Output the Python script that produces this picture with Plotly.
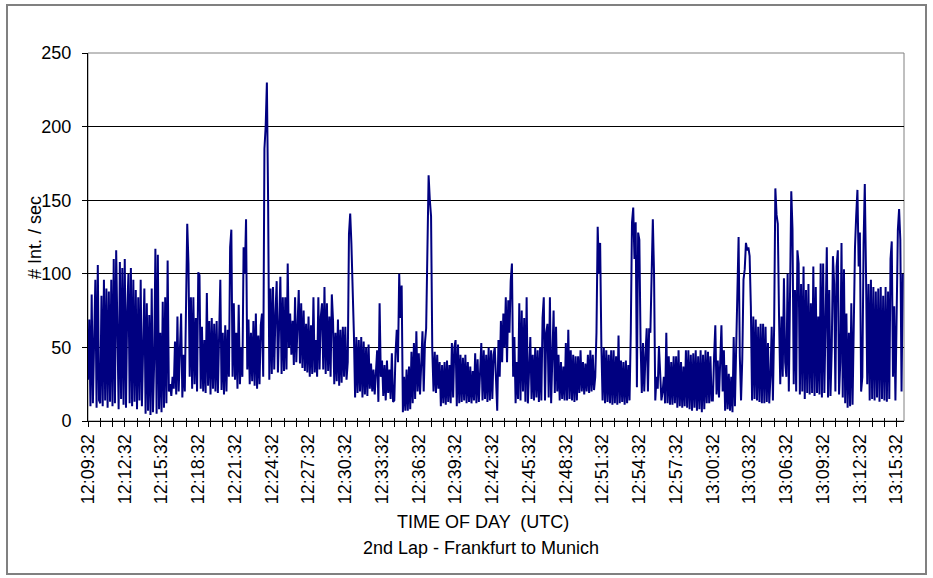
import datetime as dt
import plotly.graph_objects as go

# Interrupt rate (# per second), sampled every 6 s from 12:09:32 UTC,
# grouped in 6-minute blocks.
rate_1209 = [28, 69, 10, 86, 12, 62, 96, 9, 106, 14,
             12, 85, 10, 96, 14, 90, 9, 88, 13, 96,
             10, 110, 12, 116, 62, 8, 108, 15, 104, 11,
             110, 9, 75, 100, 12, 104, 10, 96, 13, 89,
             8, 84, 14, 96, 10, 60, 90, 5, 80, 7,
             72, 4, 90, 6, 40, 117, 5, 113, 8, 60]
rate_1215 = [6, 81, 9, 84, 12, 109, 20, 25, 17, 30,
             22, 54, 18, 71, 20, 48, 73, 16, 45, 20,
             90, 134, 107, 30, 84, 22, 84, 25, 70, 20,
             101, 99, 22, 64, 20, 55, 19, 87, 24, 68,
             18, 70, 22, 66, 20, 68, 19, 65, 96, 21,
             60, 18, 65, 20, 62, 30, 118, 130, 30, 80]
rate_1221 = [28, 60, 22, 79, 25, 50, 30, 118, 100, 137,
             35, 69, 25, 60, 27, 68, 24, 73, 22, 58,
             25, 65, 73, 30, 185, 200, 230, 150, 28, 90,
             32, 91, 35, 73, 95, 33, 60, 98, 32, 84,
             34, 84, 35, 107, 50, 73, 45, 68, 38, 84,
             40, 70, 89, 39, 80, 36, 75, 34, 66, 33]
rate_1227 = [71, 30, 65, 32, 84, 33, 55, 30, 84, 35,
             71, 80, 35, 91, 32, 80, 34, 71, 30, 86,
             68, 25, 60, 27, 69, 24, 62, 26, 64, 30,
             64, 28, 40, 127, 141, 120, 93, 60, 16, 57,
             19, 55, 20, 57, 16, 54, 18, 50, 17, 52,
             22, 39, 20, 35, 18, 30, 48, 13, 80, 30]
rate_1233 = [41, 17, 38, 14, 41, 19, 35, 15, 46, 13,
             14, 46, 62, 40, 100, 70, 92, 6, 30, 7,
             35, 7, 37, 8, 47, 12, 53, 15, 61, 20,
             46, 18, 40, 61, 20, 53, 63, 120, 167, 150,
             139, 48, 20, 47, 19, 45, 22, 40, 10, 38,
             12, 40, 11, 41, 13, 38, 12, 53, 16, 50]
rate_1239 = [55, 10, 52, 12, 45, 13, 43, 14, 45, 12,
             40, 13, 37, 12, 34, 14, 46, 12, 42, 13,
             30, 53, 14, 48, 15, 45, 13, 50, 14, 48,
             15, 45, 50, 20, 7, 55, 30, 68, 40, 73,
             50, 84, 40, 82, 60, 95, 107, 30, 57, 12,
             40, 15, 80, 14, 75, 20, 70, 13, 84, 12]
rate_1245 = [35, 57, 15, 45, 14, 50, 16, 48, 13, 50,
             14, 70, 84, 14, 60, 66, 16, 84, 12, 53,
             75, 19, 64, 20, 45, 14, 40, 15, 37, 14,
             53, 14, 62, 15, 48, 14, 45, 13, 44, 14,
             44, 19, 48, 20, 40, 18, 39, 20, 45, 19,
             48, 20, 45, 21, 30, 60, 132, 100, 121, 51]
rate_1251 = [14, 50, 12, 48, 13, 45, 12, 48, 11, 48,
             12, 44, 11, 58, 12, 41, 13, 40, 11, 41,
             12, 38, 14, 60, 135, 145, 110, 135, 23, 128,
             123, 53, 19, 53, 20, 45, 63, 20, 63, 60,
             110, 137, 100, 14, 30, 22, 51, 25, 14, 20,
             30, 12, 60, 12, 44, 11, 40, 11, 44, 12]
rate_1257 = [44, 9, 48, 10, 40, 9, 37, 10, 48, 9,
             48, 8, 45, 7, 46, 9, 48, 7, 44, 8,
             48, 6, 45, 8, 48, 12, 47, 12, 44, 14,
             14, 44, 65, 18, 41, 16, 40, 65, 20, 48,
             7, 38, 8, 32, 7, 30, 6, 57, 10, 55,
             103, 125, 44, 14, 42, 96, 103, 121, 116, 118]
rate_1303 = [112, 78, 14, 71, 15, 69, 14, 64, 13, 66,
             12, 66, 12, 64, 13, 53, 12, 30, 64, 14,
             64, 158, 140, 134, 71, 25, 71, 30, 97, 40,
             30, 100, 20, 105, 156, 130, 25, 89, 20, 116,
             107, 18, 93, 20, 105, 15, 89, 19, 93, 18,
             80, 19, 105, 17, 91, 19, 71, 18, 107, 16]
rate_1309 = [107, 19, 60, 118, 16, 89, 17, 48, 112, 93,
             20, 105, 116, 18, 40, 121, 16, 103, 12, 73,
             9, 60, 10, 80, 11, 70, 118, 140, 157, 105,
             128, 20, 30, 120, 161, 100, 25, 93, 14, 96,
             15, 91, 14, 88, 16, 90, 13, 91, 15, 85,
             14, 91, 13, 88, 15, 110, 122, 30, 78, 14]
rate_1315 = [60, 130, 144, 123, 20, 100]

tick_labels = ["12:09:32", "12:12:32", "12:15:32", "12:18:32", "12:21:32",
               "12:24:32", "12:27:32", "12:30:32", "12:33:32", "12:36:32",
               "12:39:32", "12:42:32", "12:45:32", "12:48:32", "12:51:32",
               "12:54:32", "12:57:32", "13:00:32", "13:03:32", "13:06:32",
               "13:09:32", "13:12:32", "13:15:32"]

day = "2000-01-01"
step_s = 6
rates = (rate_1209 + rate_1215 + rate_1221 + rate_1227 + rate_1233 + rate_1239
         + rate_1245 + rate_1251 + rate_1257 + rate_1303 + rate_1309 + rate_1315)
t0 = dt.datetime.fromisoformat(f"{day} {tick_labels[0]}")
times = [t0 + dt.timedelta(seconds=step_s * i) for i in range(len(rates))]
t_end = times[-1] + dt.timedelta(seconds=step_s)
tick_vals = [dt.datetime.fromisoformat(f"{day} {s}") for s in tick_labels]

# plot-area geometry (pixels)
W, H = 933, 578
L, R, T, B = 88, 29, 53, 157
pw, ph = W - L - R, H - T - B


def px(x):
    return (x - L) / pw


def py(y):
    return (H - B - y) / ph


FONT = "Liberation Sans, Arial, sans-serif"

fig = go.Figure()
fig.add_trace(go.Scatter(
    x=times, y=rates, mode="lines",
    line=dict(color="#000080", width=2),
    hoverinfo="x+y", showlegend=False,
))
# invisible trace carrying the inner half of the crossing tick marks
fig.add_trace(go.Scatter(x=[times[0]], y=[None], xaxis="x2", showlegend=False,
                         hoverinfo="skip"))

fig.update_layout(
    width=W, height=H,
    margin=dict(l=L, r=R, t=T, b=B),
    paper_bgcolor="white", plot_bgcolor="white",
    font=dict(family=FONT, size=18, color="black"),
    xaxis=dict(
        type="date", range=[t0, t_end],
        tickvals=tick_vals, ticktext=tick_labels, tickangle=-90,
        ticks="outside", ticklen=5, tickwidth=1, tickcolor="black",
        minor=dict(ticks="outside", dtick=60000, tick0=t0, ticklen=5,
                   tickcolor="black", showgrid=False),
        showline=True, linecolor="black", linewidth=1,
        showgrid=False, zeroline=False,
        tickfont=dict(size=18),
    ),
    xaxis2=dict(
        type="date", overlaying="x", matches="x", anchor="y", side="bottom",
        range=[t0, t_end], tickvals=tick_vals, showticklabels=False,
        ticks="inside", ticklen=3, tickcolor="black",
        minor=dict(ticks="inside", dtick=60000, tick0=t0, ticklen=3,
                   tickcolor="black", showgrid=False),
        showline=False, showgrid=False, zeroline=False,
    ),
    yaxis=dict(
        range=[0, 250], dtick=50, tick0=0,
        ticks="outside", ticklen=5, tickcolor="black",
        showline=True, linecolor="black", linewidth=1,
        showgrid=True, gridcolor="black", gridwidth=1, zeroline=False,
        tickfont=dict(size=18), ticklabelstandoff=7,
    ),
    shapes=[
        # plot-area frame
        dict(type="rect", xref="paper", yref="paper", x0=0, x1=1, y0=0, y1=1,
             line=dict(color="#808080", width=1), layer="below"),
        # chart-area frame
        dict(type="rect", xref="paper", yref="paper",
             x0=px(7), x1=px(926), y0=py(574), y1=py(5),
             line=dict(color="#808080", width=2)),
    ],
    annotations=[
        dict(text="TIME OF DAY  (UTC)", xref="paper", yref="paper",
             x=px(483), y=py(522), xanchor="center", yanchor="middle",
             showarrow=False, font=dict(size=18)),
        dict(text="2nd Lap - Frankfurt to Munich", xref="paper", yref="paper",
             x=px(481), y=py(548), xanchor="center", yanchor="middle",
             showarrow=False, font=dict(size=18)),
        dict(text="# Int. / sec", xref="paper", yref="paper",
             x=px(35), y=py(237), xanchor="center", yanchor="middle",
             textangle=-90, showarrow=False, font=dict(size=18)),
    ],
)

fig.write_html("out.html")
